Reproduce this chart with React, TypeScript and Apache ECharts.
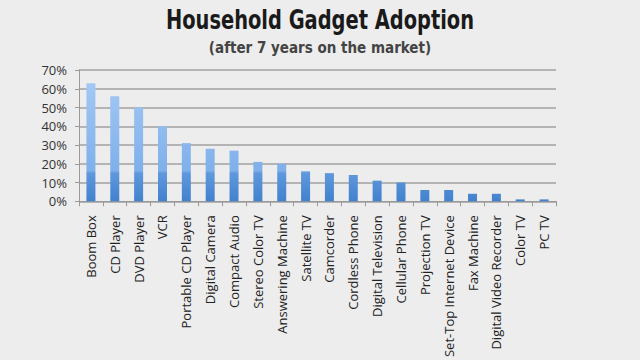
import React, { useEffect, useRef } from "react";
import * as echarts from "echarts";

const categories = [
  "Boom Box", "CD Player", "DVD Player", "VCR", "Portable CD Player",
  "Digital Camera", "Compact Audio", "Stereo Color TV", "Answering Machine",
  "Satellite TV", "Camcorder", "Cordless Phone", "Digital Television",
  "Cellular Phone", "Projection TV", "Set-Top Internet Device", "Fax Machine",
  "Digital Video Recorder", "Color TV", "PC TV",
];
const adoption = [63, 56, 50, 40, 31, 28, 27, 21, 20, 16, 15, 14, 11, 10, 6, 6, 4, 4, 1, 1];
const titleText = "Household Gadget Adoption";
const subtitleText = "(after 7 years on the market)";

export default function App() {
  const ref = useRef<HTMLDivElement>(null);
  useEffect(() => {
    if (!ref.current) return;
    const chart = echarts.init(ref.current, null, { renderer: "svg" });
    chart.setOption({
      animation: false,
      backgroundColor: "#ededed",
      graphic: [
        {
          type: "text",
          x: 320,
          y: 33,
          scaleX: 0.8,
          style: {
            text: titleText,
            align: "center",
            verticalAlign: "bottom",
            fontFamily: "DejaVu Sans Condensed",
            fontWeight: "bold",
            fontSize: 27,
            fill: "#1a1a1a",
          },
        },
        {
          type: "text",
          x: 320,
          y: 55,
          scaleX: 1.0,
          style: {
            text: subtitleText,
            align: "center",
            verticalAlign: "bottom",
            fontFamily: "DejaVu Sans Condensed",
            fontWeight: "bold",
            fontSize: 15,
            fill: "#444",
          },
        },
      ],
      grid: { left: 79, right: 84, top: 70, bottom: 154, containLabel: false },
      xAxis: {
        type: "category",
        data: categories,
        axisLine: { lineStyle: { color: "#999", width: 1 } },
        axisTick: { show: true, length: 5, lineStyle: { color: "#999" } },
        axisLabel: {
          rotate: 90,
          interval: 0,
          margin: 14,
          fontFamily: "Open Sans",
          fontSize: 13,
          color: "#222",
        },
      },
      yAxis: {
        type: "value",
        min: 0,
        max: 70,
        interval: 10,
        axisLine: { show: true, lineStyle: { color: "#999" } },
        axisTick: { show: true, length: 4, lineStyle: { color: "#999" } },
        axisLabel: {
          formatter: "{value}%",
          fontFamily: "Open Sans",
          fontSize: 13,
          color: "#333",
          margin: 12,
        },
        splitLine: { lineStyle: { color: "#a0a0a0", width: 1.5 } },
      },
      series: [
        {
          type: "bar",
          data: adoption,
          barWidth: 9,
          itemStyle: {
            color: new echarts.graphic.LinearGradient(
              0, 70, 0, 206,
              [
                { offset: 0, color: "#a8cbf5" },
                { offset: 0.74, color: "#7fb0ea" },
                { offset: 0.76, color: "#5f98dc" },
                { offset: 1, color: "#3d7dcb" },
              ],
              true
            ),
          },
        },
      ],
    });
    return () => chart.dispose();
  }, []);
  return <div ref={ref} style={{ width: 640, height: 360, position: "absolute", left: 0, top: 0 }} />;
}
